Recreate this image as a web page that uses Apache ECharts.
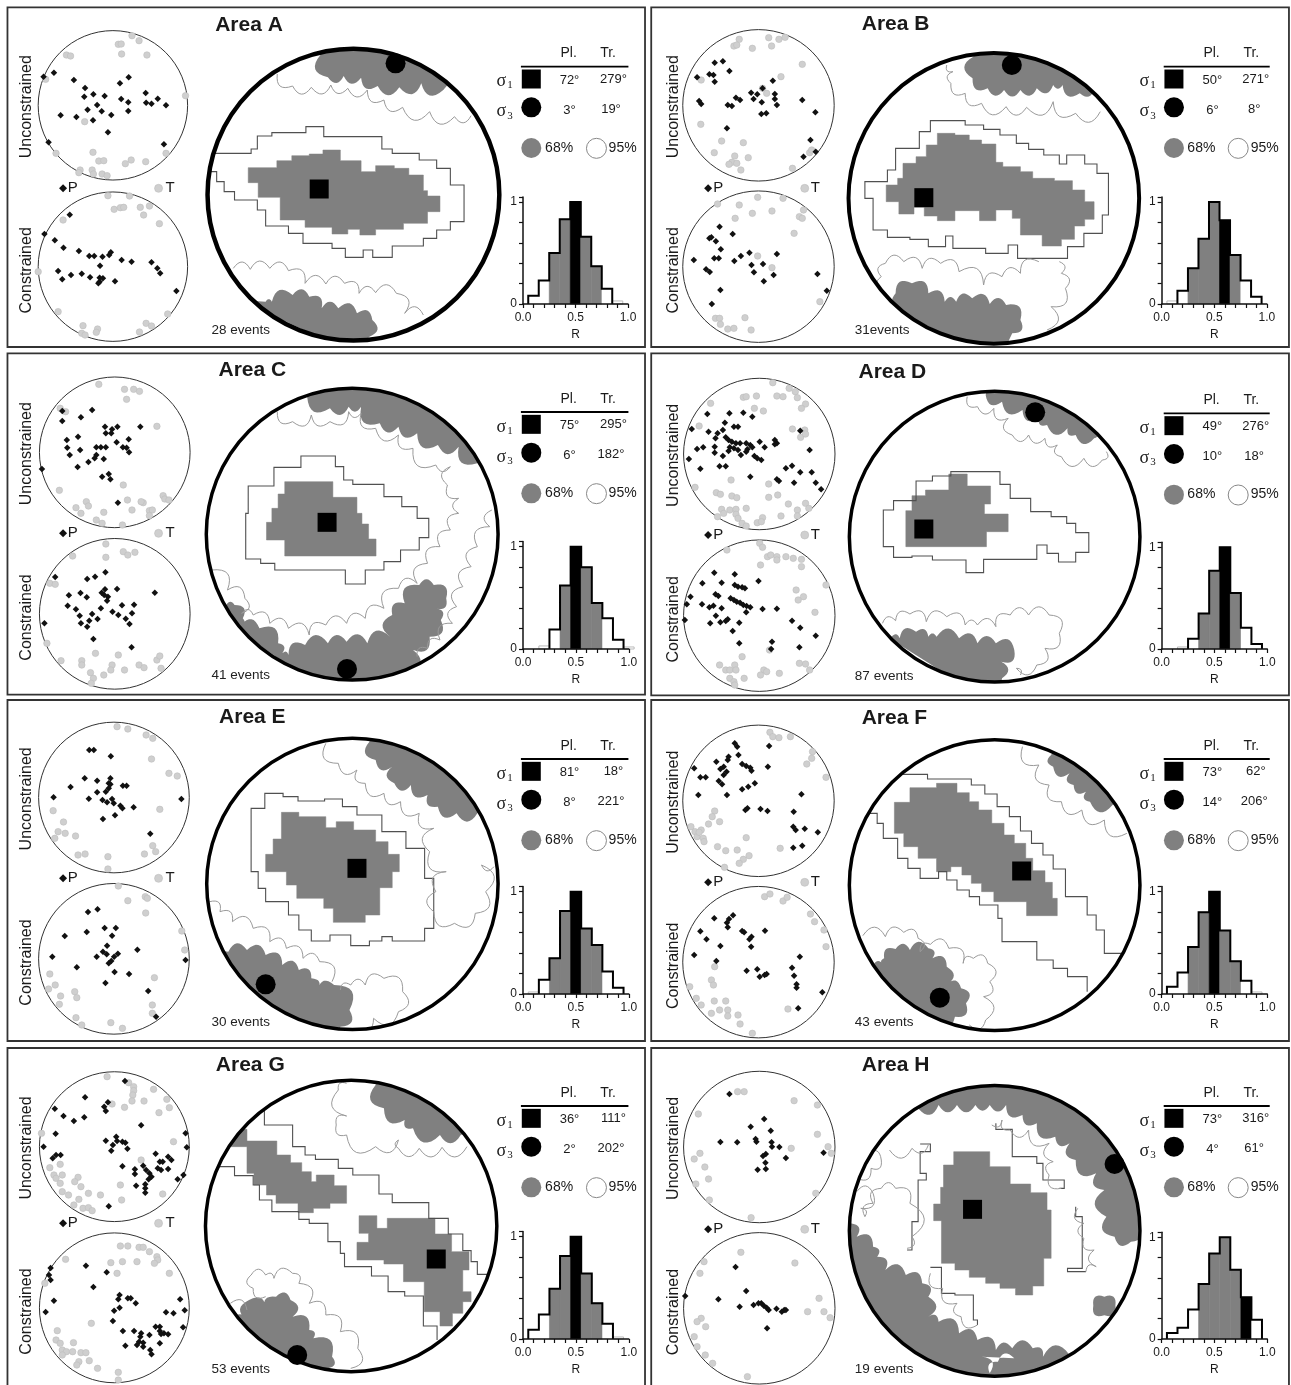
<!DOCTYPE html>
<html><head><meta charset="utf-8">
<style>html,body{margin:0;padding:0;background:#fff}#c{width:1291px;height:1385px}</style>
<script src="https://cdn.jsdelivr.net/npm/echarts@6/dist/echarts.min.js"></script>
</head><body><div id="c"></div>
<script>
// ---------- values (unit = plot units of each area's frame) ----------
const histR=[0,0.1,0.2,0.3,0.4,0.5,0.6,0.7,0.8,0.9,1.0];
const names=['Area A','Area B','Area C','Area D','Area E','Area F','Area G','Area H'];
const events=['28 events','31events','41 events','87 events','30 events','43 events','53 events','19 events'];
const sigma1Pl=['72°','50°','75°','49°','81°','73°','36°','73°'];
const sigma1Tr=['279°','271°','295°','276°','18°','62°','111°','316°'];
const sigma3Pl=['3°','6°','6°','10°','8°','14°','2°','4°'];
const sigma3Tr=['19°','8°','182°','18°','221°','206°','202°','61°'];
// histogram heights for R = 0.0 ... 1.0
const histA=[0,0.08,0.23,0.5,0.83,1,0.66,0.37,0.15,0.03,0];
const histB=[0,0.03,0.13,0.35,0.64,1,0.82,0.48,0.23,0.07,0];
const histC=[0,0,0.03,0.19,0.62,1,0.8,0.45,0.3,0.09,0.02];
const histD=[0,0,0.02,0.1,0.35,0.77,1,0.55,0.21,0.05,0];
const histE=[0,0.02,0.14,0.35,0.81,1,0.64,0.48,0.22,0.06,0];
const histF=[0,0.07,0.21,0.46,0.8,1,0.62,0.32,0.13,0.02,0];
const histG=[0,0.09,0.24,0.49,0.81,1,0.64,0.35,0.15,0.02,0];
const histH=[0,0.06,0.11,0.29,0.54,0.84,1,0.68,0.41,0.19,0];
const histBest=[0.5,0.6,0.5,0.6,0.5,0.5,0.5,0.8];
const histGrey=[[0.3,0.7],[0.3,0.7],[0.4,0.7],[0.4,0.7],[0.3,0.7],[0.3,0.7],[0.3,0.7],[0.4,0.7]];

// P and T axes
const A_uP=[[105,230],[130,218],[178,240],[205,264],[310,232],[289,250],[225,283],[203,290],[252,288],[351,279],[292,297],[380,296],[309,307],[352,308],[365,311],[400,316],[234,315],[211,329],[245,334],[309,333],[268,345],[146,346],[184,351],[224,361],[260,397],[117,427],[395,433]];
const A_uT=[[285,133],[292,132],[318,107],[335,122],[160,165],[170,168],[293,162],[354,165],[110,238],[447,287],[204,365],[135,460],[224,457],[400,460],[238,483],[250,482],[316,480],[302,491],[351,485],[193,510],[222,510],[190,518],[225,522],[246,522],[258,527]];
const A_cP=[[168,644],[107,702],[132,721],[153,743],[190,753],[215,768],[227,768],[247,770],[263,765],[267,757],[293,780],[317,785],[365,787],[379,805],[386,820],[241,797],[140,813],[150,838],[171,825],[197,821],[217,832],[240,833],[248,835],[240,845],[277,844],[425,873],[237,850]];
const A_cT=[[260,587],[312,588],[275,628],[290,623],[298,622],[338,622],[360,618],[152,660],[346,645],[384,671],[92,815],[140,935],[404,942],[352,970],[365,978],[200,977],[235,987],[232,997],[197,1000],[205,1005],[336,996]];
const B_uP=[[115,232],[158,188],[178,184],[194,213],[145,223],[155,225],[158,245],[300,242],[247,278],[262,283],[275,265],[305,282],[253,297],[273,307],[305,297],[210,293],[220,300],[190,315],[200,318],[310,315],[372,300],[120,303],[125,312],[272,342],[284,340],[404,337],[188,385],[392,420],[375,470],[405,455]];
const B_uT=[[218,118],[205,138],[212,135],[290,113],[315,118],[330,112],[250,145],[297,138],[372,193],[320,230],[125,240],[275,265],[285,280],[124,373],[175,423],[228,428],[157,458],[207,468],[240,473],[200,487],[193,493],[212,490],[222,510],[348,505],[390,458],[395,450]];
const B_cP=[[170,680],[202,702],[145,715],[150,712],[161,724],[173,748],[243,758],[310,762],[222,768],[157,775],[168,775],[107,780],[206,783],[248,795],[276,792],[137,808],[146,816],[254,817],[302,825],[409,822],[278,844],[172,870],[432,872],[151,912]];
const B_cT=[[263,592],[165,612],[218,615],[325,595],[375,630],[250,640],[298,633],[208,655],[365,650],[372,655],[352,700],[263,768],[298,803],[415,905],[160,955],[170,955],[172,973],[190,987],[205,985],[247,990],[232,953]];
const C_uP=[[150,183],[222,180],[195,202],[150,213],[253,230],[283,230],[338,230],[270,238],[255,250],[268,250],[188,260],[161,270],[281,277],[310,268],[162,293],[193,300],[232,292],[243,292],[255,292],[296,292],[305,293],[311,307],[168,315],[232,315],[228,325],[213,336],[250,327],[187,351],[101,357],[246,380],[262,372],[266,388],[284,458]];
const C_uT=[[238,103],[300,118],[322,118],[336,124],[305,148],[145,175],[158,185],[378,229],[143,421],[297,405],[393,437],[397,447],[407,450],[307,450],[345,458],[340,455],[183,473],[208,455],[213,468],[195,490],[250,487],[318,480],[360,482],[367,480],[360,497],[232,510],[246,520],[295,525]];
const C_cP=[[133,681],[210,687],[229,680],[254,667],[282,717],[373,728],[166,736],[194,729],[209,742],[245,728],[253,718],[251,735],[258,752],[260,740],[163,767],[183,778],[243,775],[294,766],[323,764],[271,785],[318,790],[192,797],[222,792],[285,795],[235,807],[303,806],[195,820],[215,812],[210,830],[312,822],[107,820],[225,867],[317,892]];
const C_cT=[[255,582],[175,618],[297,605],[308,615],[325,607],[255,622],[120,700],[133,703],[113,880],[230,910],[285,915],[197,932],[147,932],[197,945],[270,945],[267,960],[300,960],[335,945],[347,953],[378,930],[388,955],[385,918],[218,968],[250,975],[225,985],[220,1000]];
const D_uP=[[140,192],[194,190],[228,188],[250,200],[183,218],[205,230],[215,230],[178,240],[102,237],[143,245],[165,250],[160,265],[185,262],[192,270],[200,275],[210,280],[220,280],[235,280],[245,285],[268,275],[305,270],[310,280],[305,283],[367,242],[158,290],[130,292],[115,297],[195,292],[205,295],[215,300],[280,292],[238,298],[250,292],[158,308],[178,318],[192,303],[222,315],[235,305],[255,318],[272,330],[262,325],[95,327],[123,356],[170,349],[185,349],[245,380],[390,300],[347,347],[332,355],[310,388],[315,393],[395,367],[367,367],[352,398],[405,398],[418,418]];
const D_uT=[[300,98],[340,115],[228,142],[235,140],[260,138],[310,138],[325,140],[355,125],[360,143],[380,162],[370,175],[148,160],[255,175],[277,183],[120,228],[348,237],[378,240],[368,262],[380,252],[198,390],[110,412],[290,402],[162,428],[172,433],[200,438],[212,443],[290,442],[312,435],[338,462],[380,460],[388,475],[360,480],[175,478],[195,480],[210,478],[235,475],[180,490],[165,500],[210,493],[215,505],[275,503],[320,498],[360,498],[225,520],[235,528],[262,518],[272,515]];
const D_cP=[[157,668],[207,673],[175,698],[265,693],[128,700],[207,705],[215,710],[225,712],[232,715],[160,733],[167,738],[99,740],[197,745],[205,750],[212,755],[220,758],[228,765],[236,768],[245,772],[275,777],[310,776],[90,763],[127,763],[155,767],[145,772],[175,775],[235,787],[161,797],[190,808],[172,817],[185,813],[147,820],[218,818],[85,810],[347,812],[367,833],[202,843],[405,857],[218,880],[298,875],[296,897],[365,892]];
const D_cT=[[268,580],[275,592],[188,600],[287,620],[295,615],[310,620],[310,630],[332,620],[350,625],[370,628],[370,650],[270,645],[430,705],[357,720],[375,740],[362,750],[403,787],[225,920],[207,945],[170,945],[185,960],[195,960],[210,960],[278,960],[285,965],[270,975],[316,970],[230,985],[365,940],[380,942],[390,960],[195,985],[205,995],[207,1005],[292,900]];
const E_uP=[[215,165],[226,165],[267,184],[204,250],[234,257],[266,250],[262,265],[266,268],[170,276],[296,272],[305,272],[262,280],[255,290],[234,292],[214,311],[129,307],[437,312],[247,315],[258,322],[270,312],[274,325],[290,332],[295,340],[322,337],[248,372],[277,361],[362,416]];
const E_uT=[[282,95],[308,102],[352,120],[368,130],[365,192],[407,235],[427,243],[128,347],[385,343],[153,381],[140,410],[157,415],[182,423],[132,430],[368,452],[375,470],[348,477],[188,480],[205,477],[260,485],[260,522]];
const E_cP=[[212,651],[235,643],[252,699],[279,699],[209,711],[270,722],[156,723],[258,752],[248,770],[257,778],[284,776],[275,785],[331,764],[126,785],[233,785],[447,795],[268,798],[262,805],[185,817],[276,831],[311,837],[254,864],[357,888],[376,965]];
const E_cT=[[285,573],[350,605],[355,610],[308,617],[351,654],[120,837],[372,848],[117,882],[133,870],[180,890],[185,908],[146,903],[143,928],[367,930],[367,955],[183,968],[267,983],[295,1000],[197,990],[445,765],[438,708]];
const F_uP=[[207,145],[213,155],[291,153],[216,180],[192,185],[190,195],[162,200],[225,207],[235,213],[245,218],[248,227],[288,215],[108,220],[180,215],[172,222],[187,230],[180,240],[123,247],[136,247],[168,258],[176,268],[256,265],[240,275],[225,283],[188,300],[118,300],[370,298],[238,340],[233,345],[270,342],[287,348],[351,350],[350,395],[356,405],[378,401],[410,412],[350,458],[372,452]];
const F_uT=[[293,112],[300,125],[315,128],[343,125],[397,170],[395,190],[383,207],[430,247],[158,348],[152,365],[170,380],[143,387],[100,395],[110,410],[125,405],[115,425],[130,430],[120,412],[132,440],[235,428],[165,455],[185,467],[213,465],[318,460],[242,482],[228,493],[218,505],[182,517]];
const F_cP=[[157,670],[203,661],[193,672],[188,683],[190,697],[123,709],[225,708],[230,712],[281,707],[248,725],[243,733],[138,733],[172,753],[247,755],[108,780],[366,785],[162,798],[236,827],[262,823],[347,818],[268,845],[280,840],[285,837],[352,842],[358,868],[358,878],[421,892],[362,940]];
const F_cT=[[280,605],[293,597],[325,618],[335,607],[392,657],[402,680],[425,705],[430,755],[158,815],[150,855],[155,870],[97,875],[113,910],[157,918],[185,918],[125,930],[170,945],[150,955],[190,945],[215,960],[190,963],[220,987],[250,1015],[337,942]];
const G_uP=[[301,123],[205,172],[260,187],[251,200],[255,213],[132,206],[153,228],[178,243],[203,232],[134,281],[340,256],[447,280],[255,302],[280,290],[282,303],[295,305],[302,308],[272,315],[268,332],[307,326],[105,320],[450,322],[127,355],[135,345],[146,345],[375,341],[405,350],[295,379],[345,377],[385,365],[392,365],[413,360],[380,385],[388,390],[405,387],[325,388],[325,402],[352,390],[360,400],[365,410],[358,418],[442,405],[428,418],[328,437],[350,433],[350,445],[350,458],[262,499]];
const G_uT=[[258,110],[310,128],[322,140],[322,152],[320,165],[318,183],[347,183],[370,148],[402,178],[408,203],[270,192],[300,202],[383,218],[100,280],[418,305],[340,360],[145,373],[120,383],[130,405],[150,405],[135,415],[145,430],[188,412],[180,425],[195,440],[150,455],[165,465],[190,478],[213,460],[242,465],[290,435],[293,480],[392,462],[178,495],[200,505],[213,503],[222,512]];
const G_cP=[[207,677],[257,697],[122,684],[118,705],[122,720],[225,741],[130,782],[288,765],[285,778],[308,775],[315,775],[327,790],[434,778],[110,816],[288,803],[275,812],[445,811],[400,817],[418,820],[272,843],[296,873],[323,873],[340,880],[338,890],[335,905],[375,860],[385,860],[395,880],[385,873],[360,885],[405,883],[441,862],[302,917],[330,915],[345,908],[345,920],[385,910],[362,930],[365,943],[388,882]];
const G_cT=[[290,618],[308,618],[335,622],[345,622],[360,635],[378,650],[380,660],[372,670],[330,665],[295,665],[267,668],[282,700],[408,700],[158,658],[108,730],[220,850],[138,872],[135,900],[177,908],[145,910],[150,930],[160,935],[175,935],[195,938],[207,938],[150,945],[190,965],[215,962],[185,975],[235,985],[285,997],[285,1020]];
const H_uP=[[194,162],[279,237],[246,260],[295,272],[172,306],[213,307],[258,297],[260,305],[297,307],[298,320],[316,321],[424,338],[283,342],[276,348],[332,354],[282,368],[263,389],[283,387]];
const H_uT=[[214,155],[230,155],[352,182],[409,195],[118,222],[409,283],[345,325],[435,320],[443,340],[122,340],[108,357],[134,381],[143,417],[112,432],[405,460],[247,533],[145,480]];
const H_cP=[[209,681],[235,753],[86,768],[167,778],[219,800],[253,795],[265,790],[272,790],[278,797],[285,803],[290,810],[309,806],[322,815],[328,810],[332,810],[286,865]];
const H_cT=[[222,637],[132,665],[354,669],[122,700],[413,775],[385,815],[425,815],[440,833],[125,835],[115,845],[136,860],[108,890],[115,920],[135,945],[153,970],[238,1010]];

// principal stress axes
const sigma1=[[769,567],[669,593],[788,517],[669,537],[860,520],[908,528],[1051,657],[788,508]];
const sigma3=[[953,190],[884,195],[836,957],[941,187],[640,868],[708,908],[716,945],[1135,372]];

// confidence regions: staircase outlines (each pair: across to x, then along to y)
const A_s68=[[598,503],[667,482],[703,467],[745,462],[778,450],[820,482],[870,515],[905,497],[950,505],[985,525],[1020,572],[1030,588],[1060,635],[1030,670],[972,688],[905,705],[867,688],[838,702],[800,682],[735,660],[675,592],[622,548],[598,503]];
const A_s95=[[490,460],[605,447],[620,408],[655,398],[737,380],[780,410],[920,447],[945,460],[1010,480],[1052,505],[1085,555],[1118,665],[1085,690],[1052,715],[1020,738],[945,772],[898,750],[875,772],[832,745],[800,730],[730,700],[695,678],[640,630],[620,600],[565,575],[540,545],[522,515],[490,460]];
const B_s68=[[577,555],[605,535],[618,490],[650,470],[675,435],[702,400],[745,405],[780,420],[810,432],[845,487],[862,500],[905,515],[935,535],[988,542],[1032,570],[1062,605],[1085,658],[1062,678],[1037,718],[1005,738],[958,705],[905,655],[885,630],[845,662],[805,632],[745,662],[702,648],[670,622],[645,642],[608,605],[577,555]];
const B_s95=[[525,545],[580,510],[600,445],[658,395],[685,362],[770,375],[815,388],[855,405],[895,430],[925,448],[962,465],[1000,492],[1018,465],[1062,492],[1092,520],[1120,645],[1105,700],[1060,740],[1020,775],[898,735],[875,760],[820,745],[740,708],[722,740],[680,718],[635,712],[580,690],[545,595],[525,545]];
const C_s68=[[686,395],[802,442],[860,490],[872,522],[888,567],[906,618],[686,570],[642,517],[655,475],[670,432],[686,395]];
const C_s95=[[725,318],[808,350],[828,390],[850,403],[925,440],[968,470],[1005,505],[1033,563],[1010,600],[965,635],[925,660],[880,702],[832,660],[662,640],[628,627],[592,490],[598,408],[660,352],[725,318]];
const D_s68=[[640,437],[673,420],[730,372],[775,408],[832,462],[817,492],[875,545],[822,590],[625,482],[640,437]];
const D_s95=[[570,480],[595,452],[650,393],[690,378],[735,365],[855,403],[880,445],[930,485],[980,500],[1018,520],[1040,548],[1072,607],[1040,636],[998,610],[970,585],[945,628],[815,668],[772,630],[690,618],[640,622],[595,590],[570,480]];
const E_s68=[[678,352],[720,365],[785,398],[810,380],[852,405],[905,440],[935,478],[962,530],[945,578],[915,660],[880,682],[803,640],[780,610],[715,570],[690,530],[640,478],[658,432],[678,352]];
const E_s95=[[638,295],[682,305],[718,318],[782,312],[825,335],[860,360],[920,410],[978,460],[1023,550],[1045,700],[1023,738],[945,725],[920,738],[890,752],[845,720],[795,738],[750,705],[720,660],[695,620],[640,580],[622,530],[605,340],[638,295]];
const F_s68=[[635,278],[700,265],[750,293],[780,320],[803,345],[835,385],[865,420],[890,445],[918,490],[935,527],[965,562],[983,610],[995,662],[920,620],[840,590],[810,565],[785,540],[762,515],[735,530],[700,490],[655,455],[620,415],[597,322],[635,278]];
const F_o95a=[[560,238],[678,252],[785,270],[818,297],[848,335],[878,365],[905,408],[932,445],[960,480],[985,522],[1015,605],[1068,660],[1090,705],[1110,775],[1170,775]];
const F_o95b=[[530,355],[555,385],[570,430],[605,490],[630,520],[660,550],[705,530],[725,555],[750,585],[780,605],[805,630],[850,670],[860,740],[945,795],[985,820],[1020,845],[1068,890]];
const G_s68a=[[555,268],[595,303],[667,345],[700,368],[727,395],[750,425],[762,405],[805,437],[835,490],[795,505],[755,518],[718,490],[665,465],[642,435],[612,400],[595,320],[555,268]];
const G_s68b=[[865,527],[908,565],[933,535],[1048,582],[1088,635],[1130,690],[1115,755],[1135,785],[1115,820],[1090,858],[1060,815],[1022,725],[972,672],[925,660],[860,607],[888,580],[865,527]];
const G_o95a=[[637,200],[637,255],[705,320],[735,345],[760,358],[815,385],[850,405],[913,462],[945,488],[1033,535],[1080,582],[1115,632],[1135,665],[1150,703],[1175,703]];
const G_o95b=[[510,380],[565,407],[610,435],[625,480],[655,515],[720,538],[745,550],[790,605],[820,640],[830,680],[895,708],[935,755],[975,768],[1020,858],[1053,900]];
const H_s68=[[742,335],[830,380],[880,432],[930,458],[970,510],[980,655],[962,738],[935,765],[893,745],[855,730],[820,712],[780,690],[745,670],[712,542],[693,492],[710,442],[717,375],[742,335]];
const H_o95a=[[660,312],[685,335],[660,400],[675,420],[655,545],[640,630],[628,630]];
const H_o95b=[[845,250],[845,268],[885,350],[945,370],[960,420],[1012,445],[1000,445]];
const H_o95c=[[1040,500],[1040,530],[1056,685],[1020,695],[1065,695]];
const H_o95d=[[685,682],[712,760],[745,765],[790,840],[800,855]];

// confidence regions: scalloped outlines, arcs bulge to the right of the direction of travel; a third element 1 = straight run outside the net
const A_c68=[[[772,165],[790,232],[828,228],[870,233],[910,258],[962,262],[1015,250],[1068,270],[1150,150,1],[775,100,1]],[[890,1010],[897,960],[860,940],[815,925],[775,925],[745,890],[705,885],[655,905],[640,905],[580,900,1],[850,1060,1]]];
const A_c95=[[[668,222],[705,258],[750,262],[797,255],[838,265],[885,270],[925,300],[970,322],[1035,335],[1095,350],[1135,347]],[[1020,945],[975,940],[955,880],[905,878],[865,880],[830,850],[785,852],[735,850],[695,812],[650,805],[603,808],[562,805]]];
const B_c68=[[[790,170],[788,235],[825,265],[865,270],[905,270],[945,265],[985,255],[1008,255],[1050,280],[1085,265],[1150,190,1],[790,100,1]],[[885,1000],[905,960],[870,915],[830,912],[787,895],[748,905],[720,905],[680,880],[640,850],[600,880],[610,920],[560,900,1],[850,1090,1]]];
const B_c95=[[[725,195],[740,215],[735,250],[770,280],[810,310],[870,320],[920,322],[985,305],[1040,340],[1100,335]],[[950,785],[905,820],[860,830],[815,855],[755,815],[710,790],[665,805],[620,785],[575,790],[565,830],[568,870]],[[970,990],[980,920],[1015,865],[1005,820],[1000,785]]];
const C_c68=[[[740,140],[795,175],[840,170],[870,170],[915,220],[960,230],[1005,250],[1055,285],[1105,290],[1150,340],[1230,300,1],[1060,100,1],[750,90,1]],[[990,965],[995,900],[1035,860],[1062,810],[1050,775],[1075,745],[1045,705],[1010,705],[975,760],[945,795],[940,860],[885,880],[835,875],[790,880],[735,885],[695,915],[680,910],[670,880],[625,835],[580,825],[585,805],[565,765],[545,765],[480,760,1],[850,1080,1]]];
const C_c95=[[[668,185],[705,215],[750,195],[795,215],[840,185],[870,190],[905,235],[960,255],[995,295],[1050,345],[1085,350],[1078,405],[1105,445],[1105,490],[1085,540],[1060,590],[1030,640],[1005,700],[960,715],[925,775],[880,805],[835,820],[785,825],[745,855],[695,835],[650,820],[610,795],[582,790],[590,745],[548,720],[510,660]],[[1185,480],[1180,530],[1150,590],[1135,650],[1115,710],[1100,770],[1090,820],[1060,870],[1030,895],[1005,920]]];
const D_c68=[[[820,135],[860,155],[910,180],[950,205],[970,225],[1020,235],[1040,255],[1085,265],[1090,240],[1150,200,1],[830,90,1]],[[860,985],[858,935],[890,900],[845,880],[800,880],[755,865],[700,860],[680,860],[650,845],[610,865],[590,860],[540,830,1],[850,1070,1]]];
const D_c95=[[[775,140],[800,170],[840,175],[875,205],[885,255],[925,255],[965,265],[995,285],[1005,320],[1060,325],[1105,330],[1115,305]],[[905,975],[895,955],[945,945],[965,895],[1000,850],[975,795],[925,795],[880,795],[845,830],[800,825],[770,825],[725,800],[675,815],[635,792],[600,812],[568,820]]];
const E_c68=[[[890,140],[905,195],[945,215],[950,265],[990,270],[1030,300],[1055,335],[1100,355],[1150,355],[1230,300,1],[890,90,1]],[[820,995],[842,945],[805,870],[765,885],[750,850],[720,825],[680,810],[640,780],[595,765],[550,770],[490,760,1],[800,1080,1]]];
const E_c95=[[[785,145],[815,205],[860,225],[880,265],[925,295],[965,320],[1010,355],[1045,400],[1035,470],[1075,530],[1050,590],[1045,650],[1095,685],[1145,655],[1170,590],[1160,510],[1190,515]],[[800,860],[770,800],[730,790],[690,760],[650,740],[610,700],[560,680],[530,650],[505,620]],[[860,1000],[900,970],[960,950],[970,890],[925,850],[880,870],[845,870],[820,885]]];
const F_c68=[[[980,180],[985,215],[1025,235],[1035,270],[1065,290],[1075,320],[1130,330],[1180,280,1],[1000,130,1]],[[700,985],[745,965],[772,925],[760,880],[725,868],[725,815],[690,790],[680,760],[635,765],[600,762],[572,790],[570,810],[545,810],[480,800,1],[700,1060,1]]];
const F_c95=[[[910,155],[950,210],[975,270],[1005,320],[1055,345],[1110,375],[1165,415]],[[780,990],[820,975],[815,905],[830,860],[825,805],[790,790],[765,805],[730,760],[685,748],[660,770],[655,730],[620,712],[575,725],[520,722]]];
const G_c68=[[[905,135],[925,205],[975,240],[995,265],[1060,285],[1110,285],[1180,250,1],[910,90,1]],[[790,985],[800,950],[755,895],[745,870],[705,830],[700,780],[665,770],[640,810],[600,780],[595,840],[560,840],[500,830,1],[760,1060,1]]];
const G_c95=[[[835,130],[815,150],[835,228],[810,255],[835,285],[905,320],[960,300],[960,325],[1010,325],[1065,322],[1125,320]],[[845,985],[862,925],[820,875],[785,825],[745,790],[720,730],[705,700],[660,715],[640,705],[605,705],[610,745],[640,770]],[[595,810],[555,790]]];
const H_c68=[[[655,205],[705,195],[750,195],[795,195],[830,195],[870,195],[910,225],[945,250],[990,290],[1025,310],[1040,360],[1090,400],[1110,450],[1115,530],[1135,590],[1175,605],[1195,560],[1240,350,1],[1100,140,1],[850,90,1],[660,150,1]],[[1025,945],[960,950],[935,925],[885,925],[845,930],[800,900],[755,880],[705,845],[680,830],[680,770],[665,730],[625,705],[575,690],[555,650],[545,620],[505,590],[490,550],[420,570,1],[480,800,1],[650,980,1],[850,1080,1],[1020,1040,1]],[[1110,770],[1083,797],[1110,826],[1137,797],[1110,770]]];
const H_cWhite=[[[890,955],[850,965],[830,1000],[810,950]]];
const H_c95=[[[628,625],[640,590],[635,490],[600,445],[565,445],[545,490],[525,530],[515,505],[545,460],[505,455]],[[505,415],[540,385],[565,360],[530,340]],[[585,330],[640,325],[680,315]],[[835,255],[860,240],[880,270],[925,270],[975,310],[985,365],[975,405],[1005,445]],[[1045,505],[1060,550],[1060,595],[1085,630],[1090,680],[1065,695]],[[685,700],[715,745],[750,790],[760,830],[800,855]]];

// ---------- page geometry: each area's frame in pixels, and its plot-unit extent ----------
const origins=[[0,0],[650,0],[0,350],[650,350],[0,695],[650,695],[0,1040],[650,1040]];
const sizes=[[650,350],[641,350],[650,350],[641,350],[650,350],[641,350],[650,345],[641,345]];
const frames=[[18,22,1554,1041],[3,22,1561,1041],[18,10,1554,1034],[3,10,1561,1036],[18,15,1554,1038],[3,15,1561,1038],[18,24,1554,1100],[3,24,1561,1100]];
const bigNets=[[500,148,1203,1020],[485,158,1195,1032],[497,115,1200,990],[487,122,1197,998],[498,130,1200,1003],[487,133,1197,1008],[495,122,1197,994],[487,135,1197,1010]];
const netWidth=[4.5,4,3.5,3.5,3.5,3.5,3.5,3.5];
const smallU=[[92,90,452,542],[80,90,450,542],[95,80,458,534],[82,84,452,540],[93,80,456,535],[80,90,450,545],[95,94,456,546],[82,95,452,547]];
const smallC=[[92,574,452,1026],[80,574,450,1026],[95,565,458,1018],[82,570,452,1024],[93,565,456,1018],[80,575,450,1028],[95,577,456,1030],[82,578,452,1032]];
const histBox=[[1260,1513,912,606],[1250,1507,912,606],[1260,1515,897,590],[1250,1508,897,592],[1260,1515,897,590],[1250,1508,897,590],[1260,1515,897,590],[1250,1508,897,592]];
const titleXY=[[600,75],[600,73],[608,62],[592,66],[608,67],[597,70],[603,77],[600,77]];
const tableLine=[200,200,186,190,192,192,198,198];
const eventsXY=[[580,990],[567,990],[580,977],[572,980],[580,982],[572,982],[580,988],[572,988]];
const ptY=[565,565,550,555,550,562,550,568];

const P=[A_uP,B_uP,C_uP,D_uP,E_uP,F_uP,G_uP,H_uP], T=[A_uT,B_uT,C_uT,D_uT,E_uT,F_uT,G_uT,H_uT];
const cP=[A_cP,B_cP,C_cP,D_cP,E_cP,F_cP,G_cP,H_cP], cT=[A_cT,B_cT,C_cT,D_cT,E_cT,F_cT,G_cT,H_cT];
const hists=[histA,histB,histC,histD,histE,histF,histG,histH];
const fill68=[[A_s68],[B_s68],[C_s68],[D_s68],[E_s68],[F_s68],[G_s68a,G_s68b],[H_s68]];
const closed95=[[A_s95],[B_s95],[C_s95],[D_s95],[E_s95],[],[],[]];
const open95=[[],[],[],[],[],[F_o95a,F_o95b],[G_o95a,G_o95b],[H_o95a,H_o95b,H_o95c,H_o95d]];
const scal68=[A_c68,B_c68,C_c68,D_c68,E_c68,F_c68,G_c68,H_c68];
const scal95=[A_c95,B_c95,C_c95,D_c95,E_c95,F_c95,G_c95,H_c95];

const FONT='"Liberation Sans", Arial, Helvetica, sans-serif';
const GREY='#808080', DARK='#1a1a1a';

function stairs(pts){const o=[pts[0].slice()];for(let i=1;i<pts.length;i++){const l=o[o.length-1];o.push([pts[i][0],l[1]]);o.push([pts[i][0],pts[i][1]]);}return o;}
function scallop(pts,api){
  const out=[api.coord(pts[0])];
  for(let i=1;i<pts.length;i++){
    const a=out[out.length-1],b=api.coord(pts[i]);
    if(pts[i][2]===1){out.push(b);continue;}
    const dx=b[0]-a[0],dy=b[1]-a[1];
    const cx=(a[0]+b[0])/2-dy*0.8,cy=(a[1]+b[1])/2+dx*0.8;
    for(let k=1;k<=8;k++){const t=k/8,u=1-t;out.push([u*u*a[0]+2*u*t*cx+t*t*b[0],u*u*a[1]+2*u*t*cy+t*t*b[1]]);}
  }
  return out;
}
function shapes(i,z,list){
  return {type:'custom',xAxisIndex:i,yAxisIndex:i,z:z,silent:true,animation:false,clip:false,
    data:list.map(()=>[0,0]),
    renderItem:(p,api)=>list[p.dataIndex](api)};
}
const poly=(pts,style,closed)=>api=>({type:closed?'polygon':'polyline',shape:{points:pts.map(q=>api.coord(q))},style});
const scal=(pts,style,closed)=>api=>({type:closed?'polygon':'polyline',shape:{points:scallop(pts,api)},style});
const net=(b,lw,col)=>api=>{const a=api.coord([b[0],b[1]]),c=api.coord([b[2],b[3]]);return{type:'circle',shape:{cx:(a[0]+c[0])/2,cy:(a[1]+c[1])/2,r:(c[0]-a[0])/2},style:{fill:'none',stroke:col,lineWidth:lw}};};
const mask=b=>api=>{const a=api.coord([b[0],b[1]]),c=api.coord([b[2],b[3]]);const r=(c[0]-a[0])/2;return{type:'ring',shape:{cx:(a[0]+c[0])/2,cy:(a[1]+c[1])/2,r0:r,r:r+45},style:{fill:'#fff'}};};
const txt=(s,x,y,o)=>api=>{const q=api.coord([x,y]);return{type:'text',x:q[0],y:q[1],rotation:o.rot||0,style:{x:0,y:0,text:s,font:o.font,fill:o.fill||DARK,align:o.align||'center',verticalAlign:'middle',textAlign:o.align||'center',textVerticalAlign:'middle'}};};
const pts=(i,z,name,data,symbol,size,style)=>({type:'scatter',name,xAxisIndex:i,yAxisIndex:i,z,silent:true,animation:false,symbol,symbolSize:size,itemStyle:Object.assign({opacity:1},style),data});

const grid=[],xAxis=[],yAxis=[],series=[];
names.forEach((nm,i)=>{
  const [ox,oy]=origins[i],[w,h]=sizes[i];
  grid.push({left:ox,top:oy,width:w,height:h});
  xAxis.push({type:'value',gridIndex:i,min:0,max:1566,show:false});
  yAxis.push({type:'value',gridIndex:i,min:0,max:h*3,inverse:true,show:false});
});
names.forEach((nm,i)=>{
  const [ox,oy]=origins[i],[w]=sizes[i],sx=1566/w,hb=histBox[i];
  const unit=(hb[2]-hb[3])/3, top=oy+hb[3]/3-unit*0.05;
  grid.push({left:ox+hb[0]/sx,width:(hb[1]-hb[0])/sx,top:top,height:unit*1.05});
  xAxis.push({type:'value',gridIndex:8+i,min:0,max:1,interval:0.1,z:10,
    axisLine:{show:true,onZero:false,lineStyle:{color:'#111',width:1.5}},
    axisTick:{show:true,inside:false,length:4,lineStyle:{color:'#111',width:1.2}},
    splitLine:{show:false},name:'R',nameLocation:'middle',nameGap:25,
    nameTextStyle:{color:DARK,fontFamily:FONT,fontSize:12},
    axisLabel:{margin:8,color:DARK,fontFamily:FONT,fontSize:12,showMinLabel:true,showMaxLabel:true,
      formatter:v=>(Math.abs(v)<1e-6||Math.abs(v-0.5)<1e-6||Math.abs(v-1)<1e-6)?v.toFixed(1):''}});
  yAxis.push({type:'value',gridIndex:8+i,min:0,max:1.05,interval:0.2,z:10,
    axisLine:{show:true,onZero:false,lineStyle:{color:'#111',width:1.5}},
    axisTick:{show:true,inside:false,length:4,lineStyle:{color:'#111',width:1.2}},
    splitLine:{show:false},
    axisLabel:{margin:6,color:DARK,fontFamily:FONT,fontSize:12,
      formatter:v=>(Math.abs(v)<1e-6)?'0':(Math.abs(v-1)<1e-6?'1':'')}});

  // regions
  const reg=[];
  fill68[i].forEach(s=>reg.push(poly(stairs(s),{fill:GREY,stroke:GREY,lineWidth:0.5},true)));
  scal68[i].forEach(s=>reg.push(scal(s,{fill:GREY,stroke:null},true)));
  if(i===7) H_cWhite.forEach(s=>reg.push(scal(s,{fill:'#fff',stroke:null},true)));
  const line95={fill:'none',stroke:'#505050',lineWidth:1.1};
  closed95[i].forEach(s=>reg.push(poly(stairs(s),line95,true)));
  open95[i].forEach(s=>reg.push(poly(stairs(s),line95,false)));
  scal95[i].forEach(s=>reg.push(scal(s,{fill:'none',stroke:'#9a9a9a',lineWidth:1},false)));
  series.push(shapes(i,1,reg));
  series.push(shapes(i,2,[mask(bigNets[i])]));
  series.push(shapes(i,3,[net(bigNets[i],netWidth[i],'#000'),net(smallU[i],1,'#333'),net(smallC[i],1,'#333'),
    api=>{const f=frames[i],a=api.coord([f[0],f[1]]),b=api.coord([f[2],f[3]]);return{type:'rect',shape:{x:a[0],y:a[1],width:b[0]-a[0],height:b[1]-a[1]},style:{fill:'none',stroke:'#333',lineWidth:1.8}};},
    api=>{const y=tableLine[i],a=api.coord([1255,y]),b=api.coord([1514,y]);return{type:'line',shape:{x1:a[0],y1:a[1],x2:b[0],y2:b[1]},style:{stroke:'#000',lineWidth:1.8}};}]));

  // P and T axes
  const tStyle={color:'#cfcfcf',borderColor:'#bdbdbd',borderWidth:0.6};
  const pStyle={color:'#111'};
  series.push(pts(i,4,'T unconstrained',T[i],'circle',6.5,tStyle));
  series.push(pts(i,4,'T constrained',cT[i],'circle',6.5,tStyle));
  series.push(pts(i,5,'P unconstrained',P[i],'diamond',6.5,pStyle));
  series.push(pts(i,5,'P constrained',cP[i],'diamond',6.5,pStyle));
  // stress axes
  series.push(pts(i,6,'sigma1',[sigma1[i]],'rect',19,{color:'#000'}));
  series.push(pts(i,6,'sigma3',[sigma3[i]],'circle',20,{color:'#000'}));

  // table and legend marks
  const dy=tableLine[i]-200, right=i%2===1;
  const px=right?[142,167,378,404]:[152,175,382,410], py=ptY[i];
  series.push(pts(i,6,'key sigma1',[[1280,237+dy]],'rect',19,{color:'#000'}));
  series.push(pts(i,6,'key sigma3',[[1280,322+dy]],'circle',20,{color:'#000'}));
  series.push(pts(i,6,'key 68',[[1280,444+dy]],'circle',20,{color:GREY}));
  series.push(pts(i,6,'key 95',[[1437,445+dy]],'circle',20,{color:'#fff',borderColor:'#888',borderWidth:1}));
  series.push(pts(i,6,'key P',[[px[0],py]],'diamond',8,pStyle));
  series.push(pts(i,6,'key T',[[px[2],py]],'circle',8,tStyle));

  const f13='13px '+FONT, f16='16px '+FONT;
  const u=smallU[i],c=smallC[i],lx=right?58:65;
  const tx=right?4:0;
  series.push(shapes(i,7,[
    txt(nm,titleXY[i][0],titleXY[i][1],{font:'bold 21px '+FONT}),
    txt(events[i],eventsXY[i][0],eventsXY[i][1],{font:'13.5px '+FONT,fill:'#222'}),
    txt('Unconstrained',lx,(u[1]+u[3])/2+4,{font:f16,rot:Math.PI/2}),
    txt('Constrained',lx,(c[1]+c[3])/2+11,{font:f16,rot:Math.PI/2}),
    txt('P',px[1],py,{font:'15px '+FONT}),
    txt('T',px[3],py,{font:'15px '+FONT}),
    txt('Pl.',1370+tx/2,160+dy,{font:'14px '+FONT}),
    txt('Tr.',1465+tx,160+dy,{font:'14px '+FONT}),
    txt('σ',1208,245+dy,{font:'18px "Liberation Serif", serif'}),
    txt('1',1229,256+dy,{font:'11px "Liberation Serif", serif'}),
    txt('σ',1208,335+dy,{font:'18px "Liberation Serif", serif'}),
    txt('3',1229,347+dy,{font:'11px "Liberation Serif", serif'}),
    txt(sigma1Pl[i],1372+tx/2,240+dy,{font:f13}),
    txt(sigma1Tr[i],1478+tx/2,238+dy,{font:f13}),
    txt(sigma3Pl[i],1372+tx/2,330+dy,{font:f13}),
    txt(sigma3Tr[i],1472+tx,328+dy,{font:f13}),
    txt('68%',1347,443+dy,{font:'14px '+FONT}),
    txt('95%',1500+tx/2,443+dy,{font:'14px '+FONT})
  ]));

  // histogram: filled bars, then a single stepped outline over the main bars
  const g=histGrey[i],best=histBest[i];
  series.push({type:'custom',xAxisIndex:8+i,yAxisIndex:8+i,z:8,silent:true,animation:false,clip:false,
    data:histR.map((r,k)=>[r,hists[i][k]]).filter(d=>d[1]>0),
    encode:{x:0,y:1},
    renderItem:(p,api)=>{
      const r=api.value(0),v=api.value(1),a=api.coord([r-0.05,v]),b=api.coord([r+0.05,0]);
      const faint=v<=0.03;
      const isBest=Math.abs(r-best)<1e-6, isGrey=r>=g[0]-1e-6&&r<=g[1]+1e-6;
      const col=isBest?'#000':(isGrey?GREY:'#fff');
      return{type:'rect',shape:{x:a[0],y:a[1],width:b[0]-a[0],height:b[1]-a[1]},
        style:{fill:col,stroke:faint?'#bbb':(isGrey||isBest?col:null),lineWidth:faint?1:0.6}};
    }});
  series.push({type:'custom',xAxisIndex:8+i,yAxisIndex:8+i,z:9,silent:true,animation:false,clip:false,
    data:[[0,0]],
    renderItem:(p,api)=>{
      const main=histR.map((r,k)=>[r,hists[i][k]]).filter(d=>d[1]>0.03);
      const line=[api.coord([main[0][0]-0.05,0])];
      main.forEach(d=>{line.push(api.coord([d[0]-0.05,d[1]]));line.push(api.coord([d[0]+0.05,d[1]]));});
      line.push(api.coord([main[main.length-1][0]+0.05,0]));
      return{type:'polyline',shape:{points:line},style:{fill:'none',stroke:'#000',lineWidth:2}};
    }});
});

const chart=echarts.init(document.getElementById('c'),null,{renderer:'canvas'});
chart.setOption({animation:false,backgroundColor:'#fff',grid,xAxis,yAxis,series,tooltip:{show:false},legend:{show:false}});
</script></body></html>
